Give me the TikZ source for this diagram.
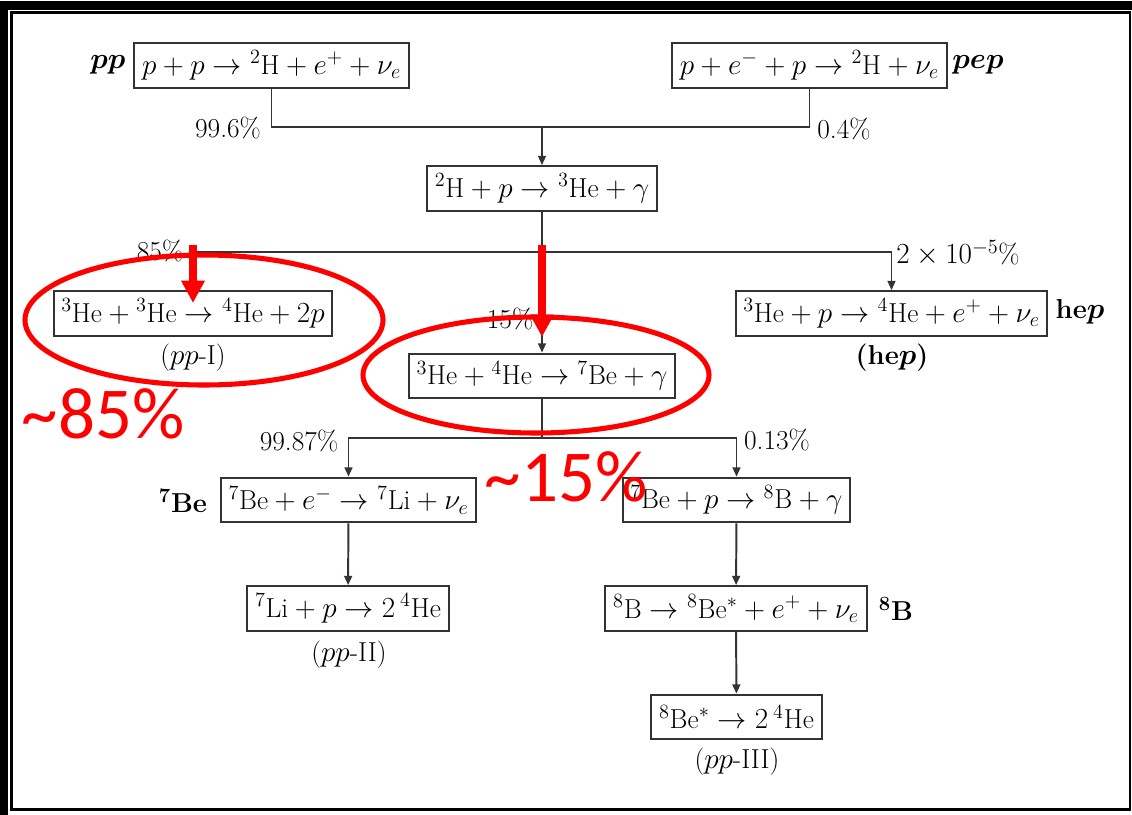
\documentclass[tikz,border=0pt]{standalone}
\usepackage{amsmath,amssymb}
\usepackage{fontspec}
\usepackage{tikz}
\usetikzlibrary{arrows.meta}
\newfontfamily\annotfont{Carlito}
\newcommand{\nucl}[2]{{}^{#1}\mathrm{#2}}

\tikzset{
  reaction/.style={draw=black!80, line width=1.4pt, inner xsep=5.5pt, minimum height=1.12cm, font=\fontsize{19.5}{23}\selectfont},
  infotext/.style={font=\fontsize{19.5}{23}\selectfont},
  wire/.style={draw=black!80, line width=1.4pt},
  flow/.style={wire, -{Triangle[length=6.5pt,width=5.5pt]}},
  redring/.style={draw=red, line width=3.6pt},
  redarrow/.style={draw=red, line width=5pt, -{Triangle[length=16pt,width=16pt]}},
  redtext/.style={text=red, inner sep=0pt, font=\annotfont\fontsize{52}{60}\selectfont}
}

\begin{document}
\begin{tikzpicture}[x=0.025cm, y=-0.025cm]
  \useasboundingbox (0,0) rectangle (1132,815);
  \fill[white] (0,0) rectangle (1132,815);
  \draw[line width=5.7pt] (3.5,840) |- (1150,5.5);
  \draw[line width=2.1pt] (11.5,12.5) rectangle (1130,809.5);

  \node[reaction] (pp)  at (271.5,65.5) {$p+p\rightarrow\nucl{2}{H}+e^{+}+\nu_e$};
  \node[reaction] (pep) at (809.5,65.5) {$p+e^{-}+p\rightarrow\nucl{2}{H}+\nu_e$};
  \node[infotext] (pplab)  at (108,65) {$\boldsymbol{pp}$};
  \node[infotext] (peplab) at (978,65) {$\boldsymbol{pep}$};

  \node[reaction] (deut) at (542,188.5) {$\nucl{2}{H}+p\rightarrow\nucl{3}{He}+\gamma$};

  \node[reaction] (ppI) at (193,313.5) {$\nucl{3}{He}+\nucl{3}{He}\rightarrow\nucl{4}{He}+2p$};
  \node[reaction] (hep) at (891.5,313.5) {$\nucl{3}{He}+p\rightarrow\nucl{4}{He}+e^{+}+\nu_e$};
  \node[reaction] (be7) at (542,376) {$\nucl{3}{He}+\nucl{4}{He}\rightarrow\nucl{7}{Be}+\gamma$};
  \node[infotext] (ppIlab)  at (193,358) {($pp$-I)};
  \node[infotext] (heplab)  at (892,358) {\textbf{(he}$\boldsymbol{p}$\textbf{)}};
  \node[infotext] (hepname) at (1080,312) {\textbf{he}$\boldsymbol{p}$};

  \node[reaction] (ecap) at (348.5,500) {$\nucl{7}{Be}+e^{-}\rightarrow\nucl{7}{Li}+\nu_e$};
  \node[reaction] (pcap) at (736.5,500) {$\nucl{7}{Be}+p\rightarrow\nucl{8}{B}+\gamma$};
  \node[infotext] (be7name) at (183,501) {$\boldsymbol{^{7}}$\textbf{Be}};

  \node[reaction] (li7) at (348,608.5) {$\nucl{7}{Li}+p\rightarrow2\,\nucl{4}{He}$};
  \node[reaction] (b8)  at (736,608.5) {$\nucl{8}{B}\rightarrow\nucl{8}{Be}^{*}+e^{+}+\nu_e$};
  \node[infotext] (ppIIlab) at (349,655) {($pp$-II)};
  \node[infotext] (b8name)  at (896,609) {$\boldsymbol{^{8}}$\textbf{B}};

  \node[reaction] (be8) at (736.5,717) {$\nucl{8}{Be}^{*}\rightarrow2\,\nucl{4}{He}$};
  \node[infotext] (ppIIIlab) at (737,762) {($pp$-III)};

  \coordinate (j1) at (542,127);
  \coordinate (j2) at (542,252);
  \coordinate (j3) at (542,438);

  \draw[wire] (pp.south) |- (j1) -| (pep.south);
  \draw[flow] (j1) -- (deut.north);
  \draw[wire] (deut.south) -- (j2);
  \draw[flow] (j2) -| (ppI.north);
  \draw[flow] (j2) -| (hep.north);
  \draw[flow] (j2) -- (be7.north);
  \draw[wire] (be7.south) -- (j3);
  \draw[flow] (j3) -| (ecap.north);
  \draw[flow] (j3) -| (pcap.north);
  \draw[flow] (ecap) -- (li7);
  \draw[flow] (pcap) -- (b8);
  \draw[flow] (b8) -- (be8);

  \node[infotext] (f996) at (228,128) {99.6\%};
  \node[infotext] (f04)  at (844,129) {0.4\%};
  \node[infotext] (f85)  at (160,251) {85\%};
  \node[infotext] (f15)  at (510,319) {15\%};
  \node[infotext] (fhep) at (958,253) {$2\times10^{-5}$\%};
  \node[infotext] (f9987) at (299,441) {99.87\%};
  \node[infotext] (f013)  at (777,440) {0.13\%};

  \draw[redring] (204,320) ellipse [x radius=179, y radius=65];
  \draw[redring] (536,375) ellipse [x radius=173, y radius=58];
  \coordinate (r1a) at (193,245);
  \coordinate (r1b) at (193,303);
  \coordinate (r2a) at (542,245);
  \coordinate (r2b) at (542,337);
  \draw[redarrow] (r1a) -- (r1b);
  \draw[redarrow] (r2a) -- (r2b);
  \node[redtext] (big85) at (103,414) {\textasciitilde85\%};
  \node[redtext] (big15) at (566,477) {\textasciitilde15\%};
\end{tikzpicture}
\end{document}
